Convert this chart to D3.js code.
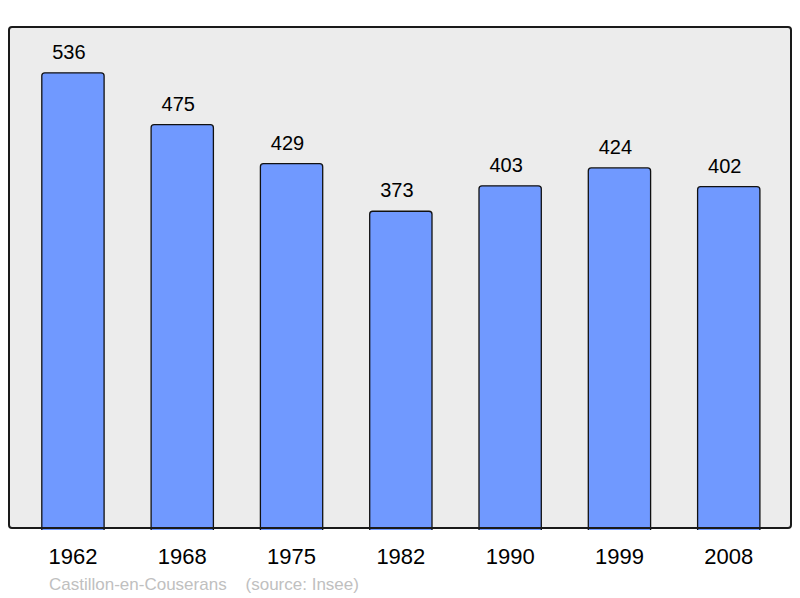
<!DOCTYPE html>
<html>
<head>
<meta charset="utf-8">
<script src="https://cdn.jsdelivr.net/npm/d3@7"></script>
<style>
  body { margin: 0; background: #fff; }
</style>
</head>
<body>
<script>
var years = ["1962", "1968", "1975", "1982", "1990", "1999", "2008"];
var population = [536, 475, 429, 373, 403, 424, 402];
var caption = "Castillon-en-Couserans    (source: Insee)";

var w = 800;
var h = 598;
var panel = { x: 9, y: 27, w: 782, h: 501 };

var svg = d3.select("body").append("svg")
    .attr("width", w)
    .attr("height", h);

// background panel
svg.append("rect")
    .attr("x", panel.x)
    .attr("y", panel.y)
    .attr("width", panel.w)
    .attr("height", panel.h)
    .attr("rx", 3)
    .attr("fill", "#ececec");

var x = d3.scaleBand()
    .domain(years)
    .range([18.3, 783.4])
    .paddingInner(0.43)
    .paddingOuter(0.215);

var y = d3.scaleLinear()
    .domain([0, 590])
    .range([panel.y + panel.h, panel.y]);

var data = years.map(function(yr, i) { return { year: yr, value: population[i] }; });

function barPath(d) {
    var x0 = x(d.year), x1 = x0 + x.bandwidth();
    var y0 = y(d.value), y1 = y(0) + 2;
    var r = 3;
    return "M" + x0 + "," + y1 +
        "V" + (y0 + r) +
        "Q" + x0 + "," + y0 + " " + (x0 + r) + "," + y0 +
        "H" + (x1 - r) +
        "Q" + x1 + "," + y0 + " " + x1 + "," + (y0 + r) +
        "V" + y1;
}

svg.selectAll("path.bar")
    .data(data)
    .enter()
    .append("path")
    .attr("class", "bar")
    .attr("d", barPath)
    .attr("fill", "#7099ff")
    .attr("stroke", "#111")
    .attr("stroke-width", 1.3);

// frame on top of bars
svg.append("rect")
    .attr("x", panel.x)
    .attr("y", panel.y)
    .attr("width", panel.w)
    .attr("height", panel.h)
    .attr("rx", 3)
    .attr("fill", "none")
    .attr("stroke", "#1a1a1a")
    .attr("stroke-width", 2);

svg.selectAll("text.val")
    .data(data)
    .enter()
    .append("text")
    .attr("class", "val")
    .text(function(d) { return d.value; })
    .attr("x", function(d) { return x(d.year) + x.bandwidth() / 2 - 4; })
    .attr("y", function(d) { return y(d.value) - 14; })
    .attr("text-anchor", "middle")
    .attr("font-family", "Liberation Sans, Arial, sans-serif")
    .attr("font-size", 20)
    .attr("fill", "#000");

var xAxis = svg.append("g")
    .attr("transform", "translate(0," + (panel.y + panel.h) + ")")
    .call(d3.axisBottom(x).tickSize(0).tickPadding(20));
xAxis.select(".domain").remove();
xAxis.selectAll("text")
    .attr("font-family", "Liberation Sans, Arial, sans-serif")
    .attr("font-size", 22)
    .attr("fill", "#000");

svg.append("text")
    .attr("x", 49)
    .attr("y", 590)
    .attr("font-family", "Liberation Sans, Arial, sans-serif")
    .attr("font-size", 17)
    .attr("fill", "#c0c0c0")
    .attr("xml:space", "preserve")
    .style("white-space", "pre")
    .text(caption);
</script>
</body>
</html>
